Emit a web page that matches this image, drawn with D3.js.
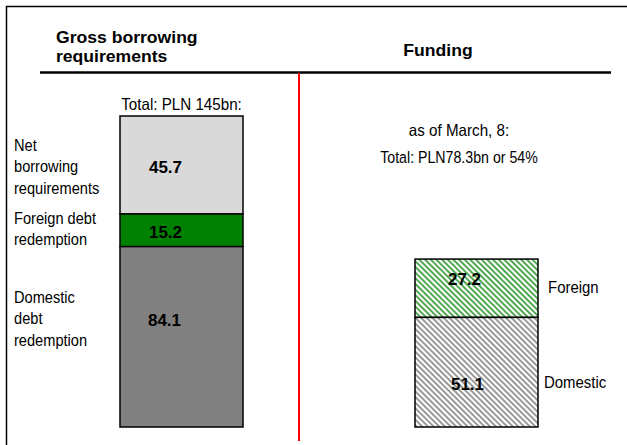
<!DOCTYPE html>
<html>
<head>
<meta charset="utf-8">
<script src="https://cdn.jsdelivr.net/npm/d3@7"></script>
<style>
  body { margin: 0; background: #fff; }
  svg { display: block; }
  .reg { font-family: "Liberation Sans", Arial, sans-serif; }
  .bold { font-family: "Liberation Sans", Arial, sans-serif; font-weight: bold; }
</style>
</head>
<body>
<div id="chart"></div>
<script>
// data
var grossNames  = ["Net borrowing requirements", "Foreign debt redemption", "Domestic debt redemption"];
var grossValues = [45.7, 15.2, 84.1];          // top -> bottom
var fundNames   = ["Foreign", "Domestic"];
var fundValues  = [27.2, 51.1];                // top -> bottom
var columns     = ["Gross borrowing requirements", "Funding"];
var titleLines  = ["Gross borrowing", "requirements"];
var grossTotal  = "Total: PLN 145bn:";
var fundNotes   = ["as of March, 8:", "Total: PLN78.3bn or 54%"];

var width = 627, height = 445;

var svg = d3.select("#chart")
  .append("svg")
    .attr("width", width)
    .attr("height", height);

// squeezed / stretched text around its anchor
function scaledText(g, cls, x, yy, size, sx, anchor) {
  return g.append("text")
    .attr("class", cls)
    .style("font-size", size + "px")
    .attr("text-anchor", anchor || "start")
    .attr("transform", "translate(" + x + "," + yy + ") scale(" + sx + ",1)");
}

// frame (top + left only)
svg.append("path")
  .attr("d", "M6.5,445 V6.5 H627")
  .attr("fill", "none")
  .attr("stroke", "#000")
  .attr("stroke-width", 1.5);

// headers
svg.append("line")
  .attr("x1", 40).attr("x2", 611)
  .attr("y1", 72.5).attr("y2", 72.5)
  .attr("stroke", "#000").attr("stroke-width", 2.5);

svg.append("line")
  .attr("x1", 299).attr("x2", 299)
  .attr("y1", 73).attr("y2", 441)
  .attr("stroke", "#ff0000").attr("stroke-width", 2);

titleLines.forEach(function(s, i) {
  scaledText(svg, "bold", 56, 43 + i * 18.5, 16, 1.1).text(s);
});

scaledText(svg, "bold", 438, 56, 16, 1.1, "middle").text(columns[1]);

// scales
var y = d3.scaleLinear()
  .domain([0, 145])
  .range([427, 116]);

var x = d3.scalePoint()
  .domain(columns)
  .range([181.5, 476.5]);

var barW = 123;

function stackDown(values) {
  // values listed top -> bottom; bottom segment starts at 0
  var out = [], acc = 0;
  for (var i = values.length - 1; i >= 0; i--) {
    out[i] = {v: values[i], y0: acc, y1: acc + values[i]};
    acc += values[i];
  }
  return out;
}

var grossStack = stackDown(grossValues);
var fundStack  = stackDown(fundValues);

// hatch patterns
var defs = svg.append("defs");
function hatch(id, color) {
  var p = defs.append("pattern")
    .attr("id", id)
    .attr("patternUnits", "userSpaceOnUse")
    .attr("width", 4).attr("height", 4)
    .attr("patternTransform", "rotate(-45)");
  p.append("rect").attr("width", 4).attr("height", 4).attr("fill", "#fff");
  p.append("line")
    .attr("x1", 1).attr("y1", 0).attr("x2", 1).attr("y2", 4)
    .attr("stroke", color).attr("stroke-width", 1.8);
}
hatch("hatchGreen", "#3f9f3f");
hatch("hatchGrey", "#8f8f8f");

var grossFill = ["#d9d9d9", "#008000", "#808080"];
var fundFill  = ["url(#hatchGreen)", "url(#hatchGrey)"];

function drawBar(stack, col, fills) {
  var cx = x(col);
  svg.append("g")
    .selectAll("rect")
    .data(stack)
    .enter()
    .append("rect")
      .attr("x", cx - barW / 2)
      .attr("width", barW)
      .attr("y", function(d) { return y(d.y1); })
      .attr("height", function(d) { return y(d.y0) - y(d.y1); })
      .attr("fill", function(d, i) { return fills[i]; })
      .attr("stroke", "#000")
      .attr("stroke-width", 1.5);
}
drawBar(grossStack, columns[0], grossFill);
drawBar(fundStack, columns[1], fundFill);

// value labels (hand-nudged like the original)
var grossNudge = [[-16, 2], [-16, 1.5], [-17, -17]];
var fundNudge  = [[-12, -9], [-9, 12]];

function drawValues(stack, col, nudge) {
  svg.append("g")
    .selectAll("text")
    .data(stack)
    .enter()
    .append("text")
      .attr("class", "bold")
      .style("font-size", "17px")
      .attr("text-anchor", "middle")
      .attr("x", function(d, i) { return x(col) + nudge[i][0]; })
      .attr("y", function(d, i) { return (y(d.y0) + y(d.y1)) / 2 + 6 + nudge[i][1]; })
      .text(function(d) { return d.v.toFixed(1); });
}
drawValues(grossStack, columns[0], grossNudge);
drawValues(fundStack, columns[1], fundNudge);

// category labels, left
var grossLines = [["Net", "borrowing", "requirements"], ["Foreign debt", "redemption"], ["Domestic", "debt", "redemption"]];
var grossLabelY = [151, 224, 303];
grossLines.forEach(function(lines, i) {
  var t = scaledText(svg, "reg", 14, grossLabelY[i], 17, 0.86);
  lines.forEach(function(s, j) {
    t.append("tspan").attr("x", 0).attr("dy", j === 0 ? 0 : 21.5).text(s);
  });
});

// category labels, right
fundStack.forEach(function(d, i) {
  scaledText(svg, "reg", i === 0 ? 548 : 544, i === 0 ? 293 : 388, 17, 0.88)
    .text(fundNames[i]);
});

// notes
scaledText(svg, "reg", x(columns[0]), 110, 16.5, 0.92, "middle").text(grossTotal);

fundNotes.forEach(function(s, i) {
  scaledText(svg, "reg", 459, 136 + i * 27, 16.5, i === 0 ? 0.92 : 0.86, "middle").text(s);
});
</script>
</body>
</html>
